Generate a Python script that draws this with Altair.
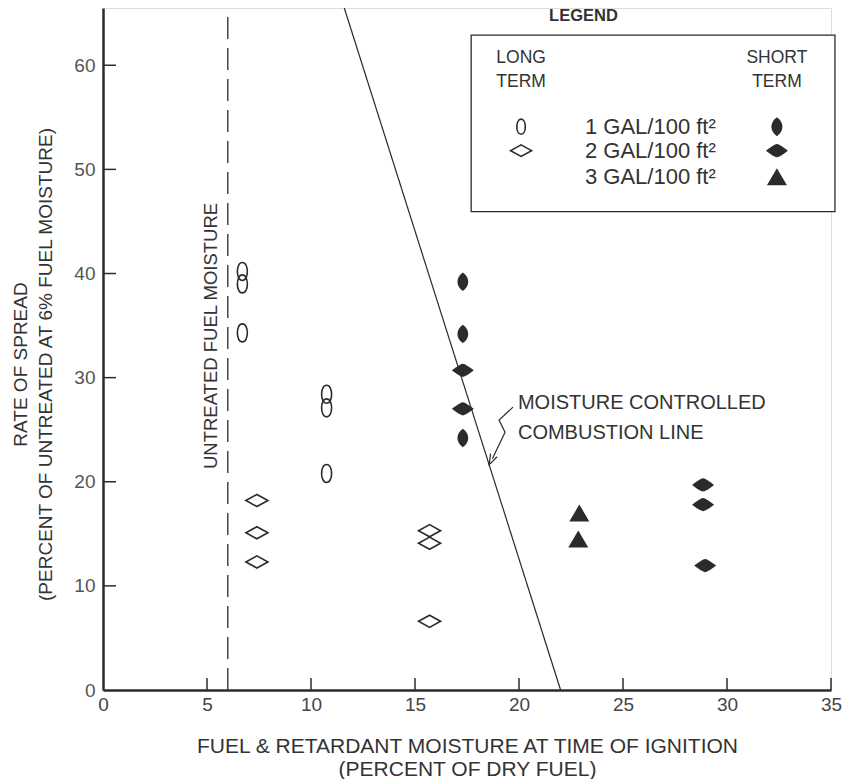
import altair as alt
import pandas as pd

# ---- data ----
long1_x = [6.7, 6.7, 6.7, 10.75, 10.75, 10.75]
long1_y = [40.2, 39.0, 34.3, 28.4, 27.1, 20.8]
long2_x = [7.4, 7.4, 7.4, 15.7, 15.7, 15.7]
long2_y = [18.2, 15.1, 12.3, 15.3, 14.1, 6.6]
short1_x = [17.3, 17.3, 17.3]
short1_y = [39.2, 34.2, 24.2]
short2_x = [17.3, 17.3, 28.85, 28.85, 28.95]
short2_y = [30.7, 27.0, 19.7, 17.8, 11.95]
short3_x = [22.9, 22.85]
short3_y = [17.0, 14.5]

x_ticks = [0, 5, 10, 15, 20, 25, 30, 35]
y_ticks = [0, 10, 20, 30, 40, 50, 60]
untreated_moisture = 6
combustion_line_x = [22.0, 11.6]
combustion_line_y = [0.0, 65.5]

legend_labels = ["1 GAL/100 ft\u00b2", "2 GAL/100 ft\u00b2", "3 GAL/100 ft\u00b2"]

# ---- styling constants ----
W, H = 728, 682
XDOM = [0, 35]
YDOM = [0, 65.5]
INK = "#2b2b2b"
SANS = "Liberation Sans, Arial, sans-serif"

ELLIPSE_OPEN = "M0,-1 C0.74,-1 0.74,1 0,1 C-0.74,1 -0.74,-1 0,-1 Z"
ELLIPSE_FILL = "M0,-1 C0.78,-0.45 0.78,0.45 0,1 C-0.78,0.45 -0.78,-0.45 0,-1 Z"
DIAMOND_OPEN = "M-1,0 L0,-0.55 L1,0 L0,0.55 Z"
DIAMOND_FILL = "M-1,0 Q-0.3,-0.55 0,-0.6 Q0.3,-0.55 1,0 Q0.3,0.55 0,0.6 Q-0.3,0.55 -1,0 Z"
TRIANGLE = "M0,-0.85 L1,0.85 L-1,0.85 Z"
ARROW_V = "M-0.7,-1 L0,1 L0.7,-1"

xs = alt.Scale(domain=XDOM, nice=False, zero=False)
ys = alt.Scale(domain=YDOM, nice=False, zero=False)


def pts(xv, yv):
    return pd.DataFrame({"x": xv, "y": yv})


def sym(df, shape, filled, size):
    if filled:
        m = alt.Chart(df).mark_point(shape=shape, filled=True, size=size,
                                     color=INK, opacity=1, strokeWidth=0)
    else:
        m = alt.Chart(df).mark_point(shape=shape, filled=False, size=size,
                                     color=INK, opacity=1, strokeWidth=1.6)
    return m.encode(x=alt.X("x:Q", scale=xs), y=alt.Y("y:Q", scale=ys))


# axes layer (base)
base = alt.Chart(pd.DataFrame({"x": [0], "y": [0]})).mark_point(opacity=0).encode(
    x=alt.X("x:Q", scale=xs,
            axis=alt.Axis(values=x_ticks, ticks=False, grid=False, domainWidth=2.5,
                          domainColor=INK, labelFont=SANS, labelFontSize=19,
                          labelColor="#444", labelPadding=5, labelFlush=False,
                          title=["FUEL & RETARDANT MOISTURE AT TIME OF IGNITION",
                                 "(PERCENT OF DRY FUEL)"],
                          titleFont=SANS, titleFontSize=21, titleFontWeight="normal",
                          titleColor="#333", titleLineHeight=23, titleBaseline="alphabetic",
                          titleX=W / 2, titleY=62)),
    y=alt.Y("y:Q", scale=ys,
            axis=alt.Axis(values=y_ticks, ticks=False, grid=False, domainWidth=2.5,
                          domainColor=INK, labelFont=SANS, labelFontSize=19,
                          labelColor="#555", labelPadding=8, labelFlush=False,
                          title=["RATE OF SPREAD",
                                 "(PERCENT OF UNTREATED AT 6% FUEL MOISTURE)"],
                          titleFont=SANS, titleFontSize=19, titleFontWeight="normal",
                          titleColor="#333", titleLineHeight=25, titleBaseline="alphabetic",
                          titleAngle=270, titleX=-77, titleY=H / 2 + 15)),
)

# inner ticks
ytick_df = pd.DataFrame({"v": [t for t in y_ticks if t > 0]})
ytk = alt.Chart(ytick_df).mark_rule(color=INK, strokeWidth=1.5).encode(
    y=alt.Y("v:Q", scale=ys), x=alt.value(0), x2=alt.value(13))
xtick_df = pd.DataFrame({"v": [t for t in x_ticks if t > 0]})
xtk = alt.Chart(xtick_df).mark_rule(color=INK, strokeWidth=1.5).encode(
    x=alt.X("v:Q", scale=xs), y=alt.value(H), y2=alt.value(H - 12))

# dashed untreated line
dash = alt.Chart(pd.DataFrame({"x": [untreated_moisture], "y": [YDOM[0]], "y2": [YDOM[1]]})).mark_rule(
    color=INK, strokeWidth=1.3, strokeDash=[22, 9]).encode(
    x=alt.X("x:Q", scale=xs), y=alt.Y("y:Q", scale=ys), y2="y2:Q")

# combustion line
cline = alt.Chart(pd.DataFrame({"x": combustion_line_x, "y": combustion_line_y})).mark_line(
    color=INK, strokeWidth=1.2).encode(x=alt.X("x:Q", scale=xs), y=alt.Y("y:Q", scale=ys))

# arrow squiggle
arrow_df = pd.DataFrame({"x": [19.71, 19.04, 19.33, 18.72], "y": [27.17, 25.92, 24.76, 22.2],
                         "o": [0, 1, 2, 3]})
arrow = alt.Chart(arrow_df).mark_line(color=INK, strokeWidth=1.2).encode(
    x=alt.X("x:Q", scale=xs), y=alt.Y("y:Q", scale=ys), order="o:Q")
arrow_head = alt.Chart(pd.DataFrame({"x": [18.68], "y": [22.1]})).mark_point(
    shape=ARROW_V, filled=False, size=110, angle=26, color=INK, strokeWidth=1.2, opacity=1).encode(
    x=alt.X("x:Q", scale=xs), y=alt.Y("y:Q", scale=ys))


def txt(x, y, text, size=18, align="left", angle=0, weight="normal", baseline="middle"):
    return alt.Chart(pd.DataFrame({"x": [x], "y": [y], "t": [text]})).mark_text(
        font=SANS, fontSize=size, align=align, angle=angle, fontWeight=weight,
        baseline=baseline, color="#333").encode(
        x=alt.X("x:Q", scale=xs), y=alt.Y("y:Q", scale=ys), text="t:N")


annot = [
    txt(19.95, 27.6, "MOISTURE CONTROLLED", size=20),
    txt(19.95, 24.7, "COMBUSTION LINE", size=20),
    txt(5.2, 34.0, "UNTREATED FUEL MOISTURE", size=18.5, align="center", angle=270),
]

# legend
legend_box = alt.Chart(pd.DataFrame({"x": [17.7], "x2": [35.19], "y": [45.95], "y2": [62.9]})).mark_rect(
    fill="white", stroke=INK, strokeWidth=1.3).encode(
    x=alt.X("x:Q", scale=xs), x2="x2:Q", y=alt.Y("y:Q", scale=ys), y2="y2:Q")
LX_LONG, LX_SHORT, LX_LABEL = 20.1, 32.4, 23.17
LROWS = [54.1, 51.8, 49.3]
legend_txt = [
    txt(23.1, 64.7, "LEGEND", size=16.5, weight="bold", align="center"),
    txt(LX_LONG, 60.7, "LONG", size=17.5, align="center"),
    txt(LX_LONG, 58.4, "TERM", size=17.5, align="center"),
    txt(LX_SHORT, 60.7, "SHORT", size=17.5, align="center"),
    txt(LX_SHORT, 58.4, "TERM", size=17.5, align="center"),
] + [txt(LX_LABEL, yv, lab, size=22) for yv, lab in zip(LROWS, legend_labels)]

legend_syms = [
    sym(pts([LX_LONG], [LROWS[0]]), ELLIPSE_OPEN, False, 230),
    sym(pts([LX_LONG], [LROWS[1]]), DIAMOND_OPEN, False, 440),
    sym(pts([LX_SHORT], [LROWS[0]]), ELLIPSE_FILL, True, 360),
    sym(pts([LX_SHORT], [LROWS[1]]), DIAMOND_FILL, True, 484),
    sym(pts([LX_SHORT], [LROWS[2]]), TRIANGLE, True, 400),
]

data_syms = [
    sym(pts(long1_x, long1_y), ELLIPSE_OPEN, False, 324),
    sym(pts(long2_x, long2_y), DIAMOND_OPEN, False, 484),
    sym(pts(short1_x, short1_y), ELLIPSE_FILL, True, 340),
    sym(pts(short2_x, short2_y), DIAMOND_FILL, True, 484),
    sym(pts(short3_x, short3_y), TRIANGLE, True, 400),
]

chart = alt.layer(
    base, dash, cline, arrow, arrow_head, ytk, xtk, *annot,
    legend_box, *legend_txt, *legend_syms, *data_syms
).properties(
    width=W, height=H,
    autosize=alt.AutoSizeParams(type="none"),
    padding={"left": 103, "top": 8, "right": 18, "bottom": 89},
).configure_view(stroke=None).configure(background="white")

chart.save("out.html", embed_options={"renderer": "svg", "actions": False})
